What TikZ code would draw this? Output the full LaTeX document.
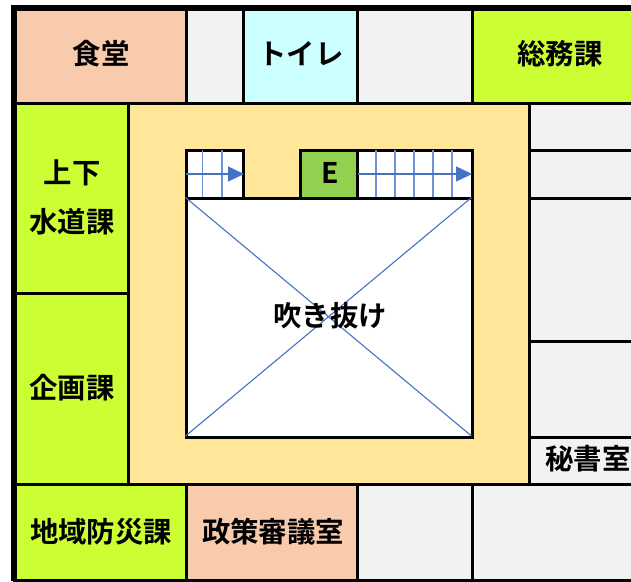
\documentclass[tikz,border=0pt]{standalone}
\usepackage{fontspec}
\setmainfont{Noto Sans CJK JP}[BoldFont={Noto Sans CJK JP Bold}]
\usetikzlibrary{arrows.meta}
\definecolor{peach}{HTML}{F8CBAD}
\definecolor{palegray}{HTML}{F2F2F2}
\definecolor{palecyan}{HTML}{CCFFFF}
\definecolor{limey}{HTML}{CCFF33}
\definecolor{corridor}{HTML}{FFE699}
\definecolor{lift}{HTML}{92D050}
\definecolor{stairblue}{HTML}{4472C4}
\definecolor{treadblue}{HTML}{6F92D6}
\tikzset{
  room/.style={draw=black,line width=3pt},
  label/.style={font=\fontsize{28.4}{32}\selectfont\bfseries,inner sep=0pt,text=black},
  tread/.style={draw=treadblue,line width=1.5pt},
  walk/.style={draw=stairblue,line width=1.4pt,-{Triangle[length=16pt,width=15pt]}},
  void/.style={draw=stairblue,line width=1.1pt},
}
\begin{document}
\begin{tikzpicture}[x=1pt,y=-1pt]
\useasboundingbox (0,0) rectangle (631,581);
\begin{scope}
\clip (0,0) rectangle (631,581);
% top row
\draw[room,fill=peach] (14,8) rectangle (186.5,103.5);
\draw[room,fill=palegray] (186.5,8) rectangle (243.7,103.5);
\draw[room,fill=palecyan] (243.7,8) rectangle (357.5,103.5);
\draw[room,fill=palegray] (357.5,8) rectangle (472.5,103.5);
\draw[room,fill=limey] (472.5,8) rectangle (650,103.5);
% left column
\draw[room,fill=limey] (14,103.5) rectangle (128.7,293.5);
\draw[room,fill=limey] (14,293.5) rectangle (128.7,484.5);
% corridor
\draw[room,fill=corridor] (128.7,103.5) rectangle (529.5,484.5);
% right column
\draw[room,fill=palegray] (529.5,103.5) rectangle (650,150.5);
\draw[room,fill=palegray] (529.5,150.5) rectangle (650,198.5);
\draw[room,fill=palegray] (529.5,198.5) rectangle (650,341.5);
\draw[room,fill=palegray] (529.5,341.5) rectangle (650,437.5);
\draw[room,fill=palegray] (529.5,437.5) rectangle (650,484.5);
% bottom row
\draw[room,fill=limey] (14,484.5) rectangle (186.5,580.5);
\draw[room,fill=peach] (186.5,484.5) rectangle (357.5,580.5);
\draw[room,fill=palegray] (357.5,484.5) rectangle (472.5,580.5);
\draw[room,fill=palegray] (472.5,484.5) rectangle (650,580.5);
% outer walls
\draw[black,line width=6pt] (14,581) -- (14,8) -- (640,8);
% stairs and lift
\draw[room,fill=white] (186.5,150.5) rectangle (243.7,198.5);
\draw[room,fill=lift] (300.5,150.5) rectangle (357.5,198.5);
\draw[room,fill=white] (357.5,150.5) rectangle (472.5,198.5);
\foreach \tx in {202.5,222} \draw[tread] (\tx,150) -- (\tx,197);
\foreach \tx in {376,395,414,433,452} \draw[tread] (\tx,150) -- (\tx,197);
\coordinate (sa) at (185.5,174); \coordinate (sb) at (244,174);
\coordinate (ba) at (357.5,174); \coordinate (bb) at (472,174);
\draw[walk] (sa) -- (sb);
\draw[walk] (ba) -- (bb);
% void
\draw[room,fill=white] (186.5,198.5) rectangle (472.5,437.5);
\coordinate (v1) at (185.5,197.5); \coordinate (v2) at (471.5,197.5);
\coordinate (v3) at (185.5,436); \coordinate (v4) at (471.5,436);
\draw[void] (v1) -- (v4);
\draw[void] (v2) -- (v3);
\end{scope}
% labels
\node[label] (shokudo) at (101,53.5) {食堂};
\node[label] (toilet) at (301,53.5) {トイレ};
\node[label] (somu) at (560,53.5) {総務課};
\node[label] (joge) at (72,172.5) {上下};
\node[label] (suido) at (72,221.5) {水道課};
\node[label] (kikaku) at (72,387.5) {企画課};
\node[label] (elev) at (330,172.5) {E};
\node[label] (fuki) at (330,315.5) {吹き抜け};
\node[label] (hisho) at (588,458.5) {秘書室};
\node[label] (chiiki) at (101,531.5) {地域防災課};
\node[label] (seisaku) at (273,531.5) {政策審議室};
\end{tikzpicture}
\end{document}
